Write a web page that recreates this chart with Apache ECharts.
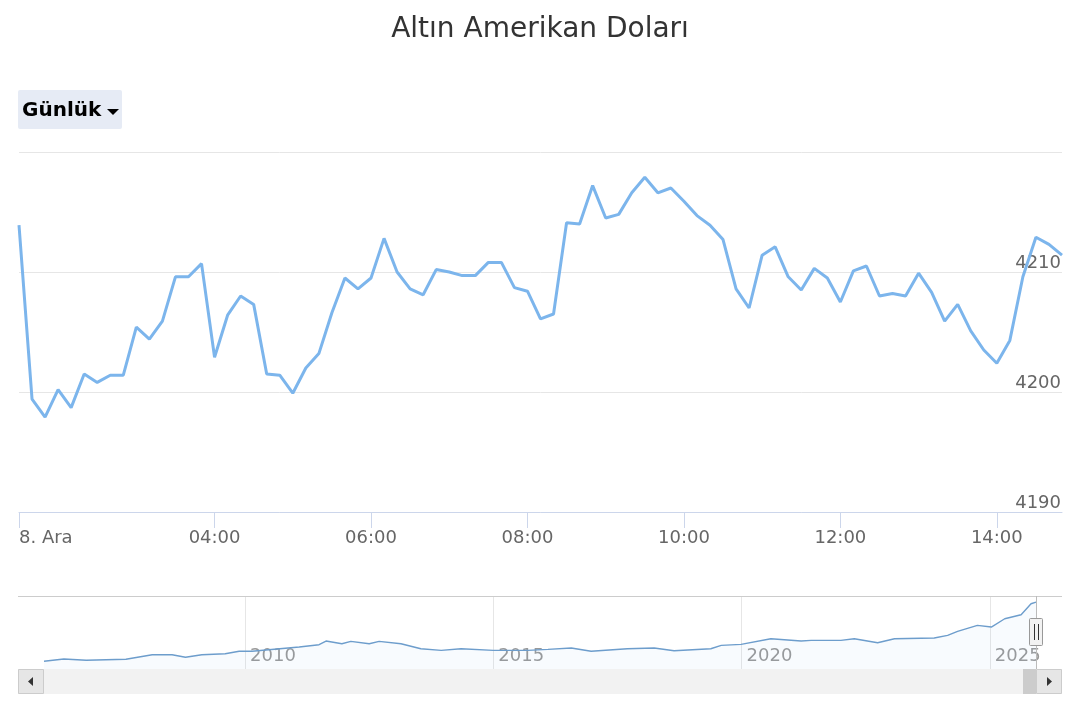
<!DOCTYPE html>
<html><head><meta charset="utf-8">
<script src="https://cdn.jsdelivr.net/npm/echarts@6/dist/echarts.min.js"></script>
<style>html,body{margin:0;padding:0;background:#fff}#chart{width:1080px;height:720px}</style>
</head><body><div id="chart"></div>
<script>
const times = ["01:30","01:40","01:50",
"02:00","02:10","02:20","02:30","02:40","02:50",
"03:00","03:10","03:20","03:30","03:40","03:50",
"04:00","04:10","04:20","04:30","04:40","04:50",
"05:00","05:10","05:20","05:30","05:40","05:50",
"06:00","06:10","06:20","06:30","06:40","06:50",
"07:00","07:10","07:20","07:30","07:40","07:50",
"08:00","08:10","08:20","08:30","08:40","08:50",
"09:00","09:10","09:20","09:30","09:40","09:50",
"10:00","10:10","10:20","10:30","10:40","10:50",
"11:00","11:10","11:20","11:30","11:40","11:50",
"12:00","12:10","12:20","12:30","12:40","12:50",
"13:00","13:10","13:20","13:30","13:40","13:50",
"14:00","14:10","14:20","14:30","14:40","14:50"];

const prices = [4213.9,4199.4,4197.9,4200.2,4198.7,4201.5,4200.8,4201.4,4201.4,4205.4,
4204.4,4205.9,4209.6,4209.6,4210.7,4202.9,4206.4,4208.0,4207.3,4201.5,
4201.4,4199.9,4202.0,4203.2,4206.6,4209.5,4208.6,4209.5,4212.8,4210.0,
4208.6,4208.1,4210.2,4210.0,4209.7,4209.7,4210.8,4210.8,4208.7,4208.4,
4206.1,4206.5,4214.1,4214.0,4217.2,4214.5,4214.8,4216.6,4217.9,4216.6,
4217.0,4215.9,4214.7,4213.9,4212.7,4208.6,4207.0,4211.4,4212.1,4209.6,
4208.5,4210.3,4209.5,4207.5,4210.1,4210.5,4208.0,4208.2,4208.0,4209.9,
4208.3,4205.9,4207.3,4205.1,4203.5,4202.4,4204.3,4209.6,4212.9,4212.3,4211.4];

const xTickTimes = ["01:30","04:00","06:00","08:00","10:00","12:00","14:00"];
const xTickTexts = ["8. Ara","04:00","06:00","08:00","10:00","12:00","14:00"];

const yMin = 4190, yMax = 4220, yStep = 10;

const navYears = [2005.95,2006.35,2006.8,2007.6,2008.13,2008.53,2008.8,2009.13,2009.6,2009.88,
2010.14,2011.09,2011.49,2011.63,2011.95,2012.13,2012.5,2012.7,2013.14,2013.54,
2013.95,2014.35,2015.0,2015.69,2016.1,2016.57,2016.97,2017.7,2018.24,2018.64,
2019.38,2019.59,2019.99,2020.59,2021.2,2021.4,2022.0,2022.27,2022.74,2023.08,
2023.88,2024.15,2024.35,2024.75,2025.03,2025.3,2025.63,2025.83,2025.93];
const navValues = [484,628,546,609,898,898,735,898,961,1112,
1112,1382,1526,1758,1589,1740,1589,1740,1589,1275,
1174,1275,1174,1174,1237,1319,1112,1275,1319,1149,
1275,1488,1551,1903,1758,1802,1802,1903,1652,1903,
1947,2116,2368,2744,2638,3159,3410,4101,4208];
const navYearTicks = [2010, 2015, 2020, 2025];

const title = "Altın Amerikan Doları";
const buttonText = "Günlük";

const chart = echarts.init(document.getElementById('chart'), null, {renderer: 'canvas'});
const FONT = '"DejaVu Sans", Verdana, sans-serif';
const tickIdx = xTickTimes.map(t => times.indexOf(t));

const option = {
  animation: false,
  textStyle: {fontFamily: FONT},
  title: {text: title, left: 'center', top: 11,
    textStyle: {fontSize: 28, fontWeight: 'normal', color: '#333333', fontFamily: FONT}},
  grid: [
    {left: 19, right: 18, top: 152, bottom: 208},
    {left: 44, right: 44, top: 596, bottom: 51}
  ],
  xAxis: [
    {type: 'category', gridIndex: 0, data: times, boundaryGap: false,
     axisLine: {lineStyle: {color: '#ccd6eb', width: 1}},
     axisTick: {show: true, length: 16, lineStyle: {color: '#ccd6eb'},
       interval: (i) => tickIdx.includes(i), alignWithLabel: true},
     axisLabel: {interval: (i) => tickIdx.includes(i), color: '#666666', fontSize: 18, margin: 17,
       alignMinLabel: 'left',
       formatter: (v) => { const k = xTickTimes.indexOf(v); return k >= 0 ? xTickTexts[k] : ''; }},
     splitLine: {show: false}},
    {type: 'value', gridIndex: 1, min: navYears[0], max: navYears[navYears.length - 1],
     axisLine: {show: false},
     axisTick: {show: false, customValues: navYearTicks},
     axisLabel: {customValues: navYearTicks, inside: true, align: 'left', verticalAlign: 'bottom',
       margin: 4, padding: [0, 0, 0, 5], color: '#999999', fontSize: 18,
       formatter: (v) => String(Math.round(v))},
     splitLine: {show: true, lineStyle: {color: '#e6e6e6', width: 1}}}
  ],
  yAxis: [
    {type: 'value', gridIndex: 0, min: yMin, max: yMax, interval: yStep, position: 'right',
     axisLine: {show: false}, axisTick: {show: false},
     axisLabel: {inside: true, margin: 1, color: '#666666', fontSize: 18, verticalAlign: 'bottom',
       showMaxLabel: false,
       formatter: (v) => v === yMax ? '' : String(v)},
     splitLine: {lineStyle: {color: '#e6e6e6', width: 1}}},
    {type: 'value', gridIndex: 1, min: 0, max: 4590,
     axisLine: {show: false}, axisTick: {show: false}, axisLabel: {show: false},
     splitLine: {show: false}}
  ],
  series: [
    {type: 'line', xAxisIndex: 0, yAxisIndex: 0, data: prices, symbol: 'none',
     lineStyle: {color: '#7cb5ec', width: 3}, itemStyle: {color: '#7cb5ec'}},
    {type: 'line', xAxisIndex: 1, yAxisIndex: 1,
     data: navYears.map((y, i) => [y, navValues[i]]), symbol: 'none',
     lineStyle: {color: '#6d9dcc', width: 1.4}, areaStyle: {color: 'rgba(124,181,236,0.08)'}}
  ],
  graphic: [
    {type: 'rect', z: 100, shape: {x: 18, y: 90, width: 104, height: 39, r: 2}, style: {fill: '#e6ebf5'}},
    {type: 'text', z: 101, x: 22, y: 111, style: {text: buttonText, font: 'bold 20px ' + FONT, fill: '#000000', verticalAlign: 'middle'}},
    {type: 'polygon', z: 101, shape: {points: [[107, 109], [119, 109], [113, 115]]}, style: {fill: '#000000'}},
    {type: 'line', z: 100, shape: {x1: 18, y1: 596.5, x2: 1062, y2: 596.5}, style: {stroke: '#cccccc', lineWidth: 1}},
    {type: 'line', z: 100, shape: {x1: 1036.5, y1: 596, x2: 1036.5, y2: 669}, style: {stroke: '#bbbbbb', lineWidth: 1}},
    {type: 'rect', z: 100, shape: {x: 18, y: 669, width: 1044, height: 25}, style: {fill: '#f2f2f2'}},
    {type: 'rect', z: 101, shape: {x: 18.5, y: 669.5, width: 25, height: 24}, style: {fill: '#e6e6e6', stroke: '#cccccc', lineWidth: 1}},
    {type: 'polygon', z: 102, shape: {points: [[28, 681.5], [33, 677], [33, 686]]}, style: {fill: '#333333'}},
    {type: 'rect', z: 101, shape: {x: 1023, y: 669, width: 13, height: 25}, style: {fill: '#cccccc'}},
    {type: 'rect', z: 101, shape: {x: 1036.5, y: 669.5, width: 25, height: 24}, style: {fill: '#e6e6e6', stroke: '#cccccc', lineWidth: 1}},
    {type: 'polygon', z: 102, shape: {points: [[1047, 677], [1052, 681.5], [1047, 686]]}, style: {fill: '#333333'}},
    {type: 'rect', z: 103, shape: {x: 1029.5, y: 618.5, width: 13, height: 27, r: 1}, style: {fill: '#f2f2f2', stroke: '#999999', lineWidth: 1}},
    {type: 'line', z: 104, shape: {x1: 1034.5, y1: 624, x2: 1034.5, y2: 640}, style: {stroke: '#333333', lineWidth: 1}},
    {type: 'line', z: 104, shape: {x1: 1038.5, y1: 624, x2: 1038.5, y2: 640}, style: {stroke: '#333333', lineWidth: 1}}
  ]
};
chart.setOption(option);
</script>
</body></html>
